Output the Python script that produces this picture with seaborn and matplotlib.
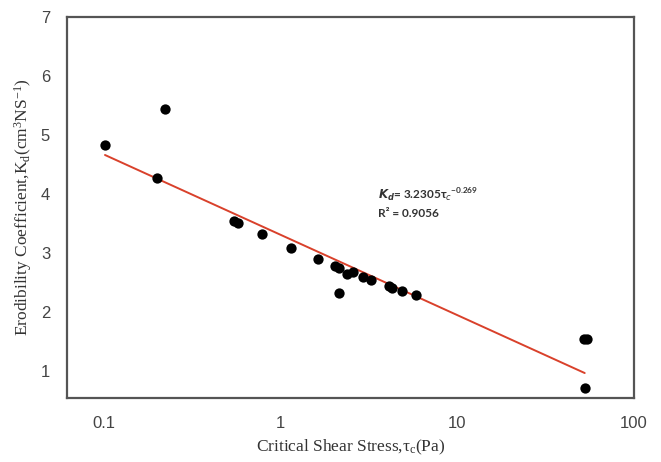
import numpy as np
import pandas as pd
import seaborn as sns
import matplotlib.pyplot as plt
from matplotlib.ticker import FixedLocator, NullLocator, FixedFormatter

# data
tau_c = [0.102, 0.223, 0.202, 0.545, 0.58, 0.785, 1.157, 1.635, 2.03, 2.16, 2.16,
         2.39, 2.57, 2.95, 3.26, 4.13, 4.31, 4.85, 5.83, 52.5, 54.0, 53.0]
kd = [4.83, 5.44, 4.27, 3.54, 3.51, 3.32, 3.08, 2.89, 2.77, 2.75, 2.31,
      2.64, 2.67, 2.59, 2.54, 2.43, 2.41, 2.36, 2.28, 1.53, 1.53, 0.71]

# trend line end points
fit_tau = [0.102, 52.7]
fit_kd = [4.66, 0.96]

x_ticks = [0.1, 1, 10, 100]
x_tick_labels = ['0.1', '1', '10', '100']
y_ticks = [1, 2, 3, 4, 5, 6, 7]

df = pd.DataFrame({'tau': tau_c, 'kd': kd})
fit_df = pd.DataFrame({'tau': fit_tau, 'kd': fit_kd})

sns.set_style("white")
plt.rcParams['font.family'] = ['Liberation Sans', 'DejaVu Sans']

fig = plt.figure(figsize=(6.61, 4.62), dpi=100)
ax = fig.add_axes([0.101, 0.139, 0.858, 0.824])

sns.lineplot(data=fit_df, x='tau', y='kd', color='#d9412b', linewidth=1.4, ax=ax)
sns.scatterplot(data=df, x='tau', y='kd', color='black', s=55, marker='o',
                edgecolor='black', linewidth=0, ax=ax, zorder=3)

ax.set_xscale('log')
ax.set_xlim(0.062, 100)
ax.set_ylim(0.54, 7)
ax.xaxis.set_major_locator(FixedLocator(x_ticks))
ax.xaxis.set_major_formatter(FixedFormatter(x_tick_labels))
ax.xaxis.set_minor_locator(NullLocator())
ax.set_yticks(y_ticks)
ax.set_yticklabels([str(v) for v in y_ticks])
ax.tick_params(axis='both', length=0, labelsize=12, colors='#444444')
ax.tick_params(axis='x', pad=13)
ax.tick_params(axis='y', pad=12)

for sp in ax.spines.values():
    sp.set_color('#555555')
    sp.set_linewidth(1.6)

ax.set_xlabel(r'Critical Shear Stress,$\mathregular{\tau_c}$(Pa)', family='Liberation Serif',
              fontsize=12.5, color='#333333', labelpad=5)
ax.set_ylabel(r'Erodibility Coefficient,K$\mathregular{_d}$(cm$\mathregular{^3}$NS$\mathregular{^{-1}}$)',
              family='Liberation Serif', fontsize=12.5, color='#333333', labelpad=5)

ax.text(0.548, 0.533, r'$\mathbfit{K_d}$= 3.2305$\mathregular{\tau_{\it c}}$$^{\mathregular{-0.269}}$',
        transform=ax.transAxes, fontsize=8.5, fontweight='bold', color='#333333',
        family='Lato', va='center')
ax.text(0.548, 0.483, r'R² = 0.9056', transform=ax.transAxes, fontsize=8.5,
        fontweight='bold', color='#333333', family='Lato', va='center')

plt.savefig('out.png', dpi=100)
